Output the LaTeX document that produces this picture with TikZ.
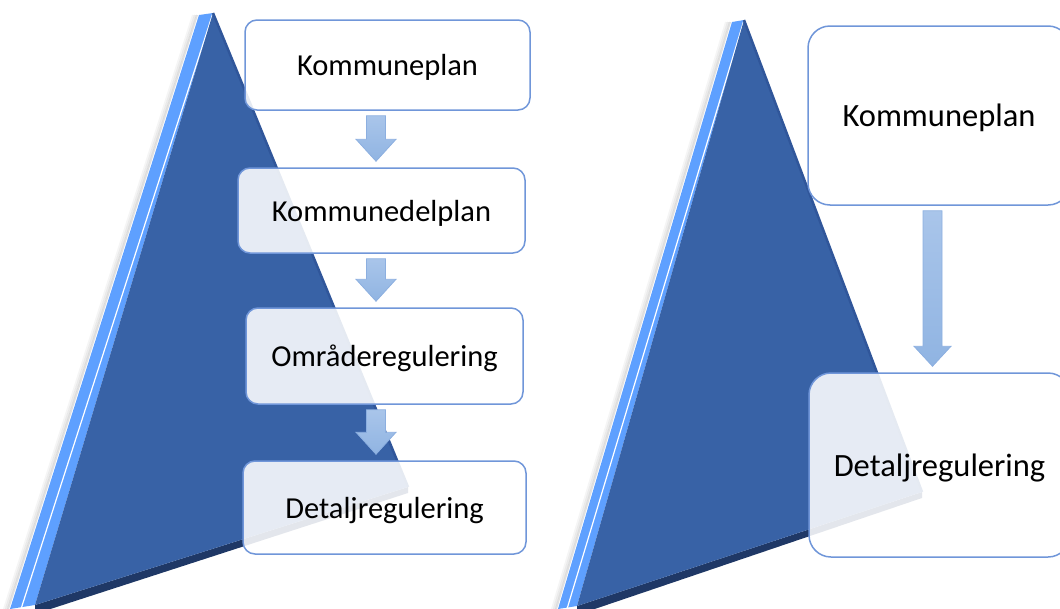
\documentclass[tikz,border=0pt]{standalone}
\usepackage{fontspec}
\setmainfont{Carlito}
\usetikzlibrary{calc}

\definecolor{facecol}{HTML}{3862A6}
\definecolor{edgecol}{HTML}{30569A}
\definecolor{rimcol}{HTML}{1F3866}
\definecolor{bevelcol}{HTML}{5EA0FF}
\definecolor{boxline}{HTML}{7096D9}
\definecolor{arrowtop}{HTML}{A9C5EA}
\definecolor{arrowbot}{HTML}{90B4E2}
\definecolor{arrowline}{HTML}{8CAFE0}

% apex, bevel top, right corner, left corner, bevel bottom, highlight end
\newcommand{\pyramid}[6]{%
    \foreach \d/\o in {2/0.12, 4/0.08, 6/0.04}
        \draw[black, opacity = \o, line width = 2pt] ($#2 + (-\d, 0)$) -- ($#5 + (-\d, 0)$);
    \fill[bevel] #2 -- #1 -- #4 -- #5 -- cycle;
    \draw[white, line width = 1.2pt] #1 -- #6;
    \fill[rim] #4 -- #3 -- ($#3 + (0, 6)$) -- ($#4 + (0, 9)$) -- cycle;
    \fill[face] #1 -- #3 -- #4 -- cycle;
    \draw[faceedge] #1 -- #3;
}

% x, from, to, half shaft, half head, head length
\newcommand{\flowarrow}[6]{%
    \path[flow] let \p1 = (#2.south), \p2 = (#3.north) in
        (#1pt - #4pt, \y1 - 5pt) -- (#1pt + #4pt, \y1 - 5pt)
        -- (#1pt + #4pt, \y2 + #6pt + 6pt) -- (#1pt + #5pt, \y2 + #6pt + 6pt)
        -- (#1pt, \y2 + 6pt)
        -- (#1pt - #5pt, \y2 + #6pt + 6pt) -- (#1pt - #4pt, \y2 + #6pt + 6pt)
        -- cycle;
}

\begin{document}
\begin{tikzpicture}[
        x = 1pt, y = -1pt,
        face/.style = {fill = facecol},
        faceedge/.style = {draw = edgecol, line width = 2.5pt},
        rim/.style = {fill = rimcol},
        bevel/.style = {fill = bevelcol},
        plan/.style = {
            draw = boxline, line width = 1.5pt,
            fill = white, fill opacity = 0.88, text opacity = 1,
            rounded corners = 12pt,
            inner sep = 0pt,
            text depth = 0pt,
            text = black,
            font = \fontsize{30.5}{36}\selectfont,
        },
        bigplan/.style = {
            plan,
            rounded corners = 22pt,
            font = \fontsize{32.5}{39}\selectfont,
        },
        flow/.style = {
            draw = arrowline, line width = 0.8pt,
            top color = arrowtop, bottom color = arrowbot,
        }
    ]
    \clip (0, 0) rectangle (1060, 608);

    \pyramid{(213, 13)}{(199, 15)}{(408, 487)}{(35, 605)}{(10, 609)}{(21, 609)}
    \pyramid{(744, 20)}{(732, 22)}{(922, 492)}{(577, 606)}{(558, 609)}{(567, 609)}

    \node[plan, minimum width = 285pt, minimum height = 90pt] (kp)  at (387.5,  65)   {Kommuneplan};
    \node[plan, minimum width = 287pt, minimum height = 85pt] (kdp) at (381.5, 210.5) {Kommunedelplan};
    \node[plan, minimum width = 277pt, minimum height = 96pt] (omr) at (384.5, 356)   {Områderegulering};
    \node[plan, minimum width = 283pt, minimum height = 93pt] (det) at (384.5, 507.5) {Detaljregulering};

    \node[bigplan, minimum width = 262pt, minimum height = 179pt] (kp2)  at (939,   115.5) {Kommuneplan};
    \node[bigplan, minimum width = 261pt, minimum height = 184pt] (det2) at (939.5, 465)   {Detaljregulering};

    \flowarrow{376}{kp}{kdp}{9.5}{20}{22}
    \flowarrow{376}{kdp}{omr}{9.5}{20}{22}
    \flowarrow{376}{omr}{det}{9.5}{20}{22}
    \flowarrow{932.5}{kp2}{det2}{9.5}{18.5}{20}
\end{tikzpicture}
\end{document}
